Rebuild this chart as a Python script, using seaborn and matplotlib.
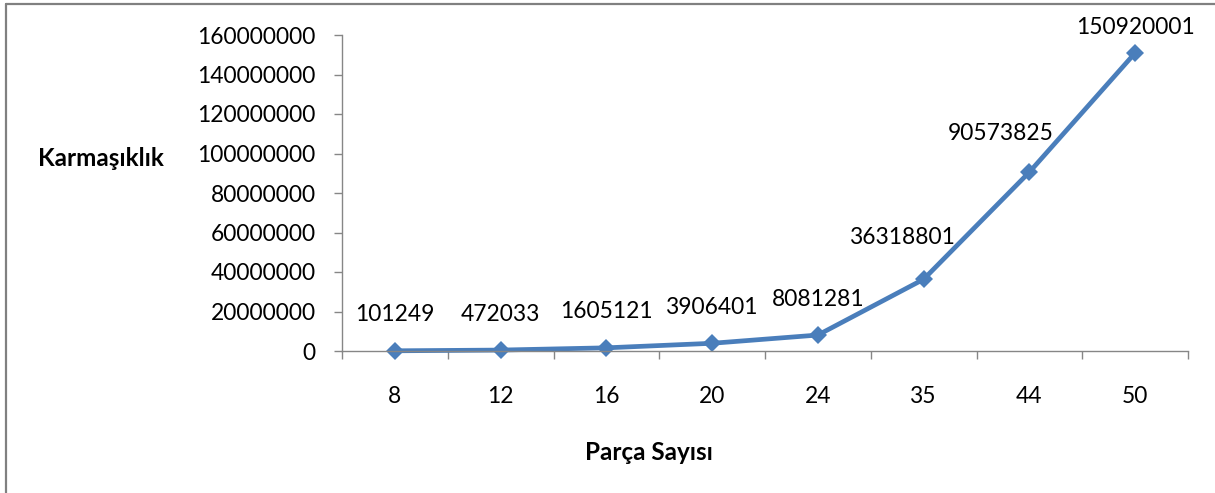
import matplotlib
matplotlib.use("Agg")
import matplotlib.pyplot as plt
from matplotlib.lines import Line2D
import pandas as pd
import seaborn as sns

# Chart data
parca_sayisi = ["8", "12", "16", "20", "24", "35", "44", "50"]
karmasiklik = [101249, 472033, 1605121, 3906401, 8081281, 36318801, 90573825, 150920001]
y_ticks = [0, 20000000, 40000000, 60000000, 80000000,
           100000000, 120000000, 140000000, 160000000]

# Label nudges (pixels) so labels stay clear of the line
label_shift_px = [(0, 36), (0, 36), (0, 36), (0, 36), (0, 36),
                  (-21, 42), (-29, 39), (0, 25)]

sns.set_theme(style="white")
plt.rcParams["font.family"] = ["Lato", "DejaVu Sans"]

W, H = 1215, 493
fig = plt.figure(figsize=(W / 100, H / 100), dpi=100)
ax = fig.add_axes([342 / W, 142 / H, 846 / W, 316 / H])

df = pd.DataFrame({"Parça Sayısı": parca_sayisi, "Karmaşıklık": karmasiklik})
sns.pointplot(data=df, x="Parça Sayısı", y="Karmaşıklık", color="#4A7EBB",
              marker="D", errorbar=None, ax=ax)
for ln in ax.lines:
    ln.set_clip_on(False)
    ln.set_linewidth(3.4)
    ln.set_marker("D")
    ln.set_markersize(9)
    ln.set_markeredgewidth(0)
    ln.set_solid_joinstyle("round")

ax.set_xlim(-0.5, len(parca_sayisi) - 0.5)
ax.set_ylim(y_ticks[0], y_ticks[-1])
ax.set_yticks(y_ticks)
ax.set_yticklabels([str(v) for v in y_ticks])
ax.set_xlabel("")
ax.set_ylabel("")

axis_gray = "#868686"
for side in ("top", "right"):
    ax.spines[side].set_visible(False)
for side in ("left", "bottom"):
    ax.spines[side].set_color(axis_gray)
    ax.spines[side].set_linewidth(1.0)

fs = 16.4
ax.tick_params(axis="y", direction="out", length=6, width=1, color=axis_gray,
               labelsize=fs, labelcolor="black", pad=13, left=True)
ax.tick_params(axis="x", which="major", length=0, labelsize=fs,
               labelcolor="black", pad=25)
ax.set_xticks([i - 0.5 for i in range(len(parca_sayisi) + 1)], minor=True)
ax.tick_params(axis="x", which="minor", direction="out", length=6, width=1,
               color=axis_gray, bottom=True)

for i, (v, (dx, dy)) in enumerate(zip(karmasiklik, label_shift_px)):
    ax.annotate(str(v), (i, v), xytext=(dx * 0.72, dy * 0.72),
                textcoords="offset points", ha="center", va="center",
                fontsize=fs, color="black", annotation_clip=False)

fig.text(101 / W, 1 - 158 / H, "Karmaşıklık", ha="center", va="center",
         fontsize=17.5, fontweight="bold", color="black")
fig.text(649 / W, 1 - 452 / H, "Parça Sayısı", ha="center", va="center",
         fontsize=17.5, fontweight="bold", color="black")

# Chart-area frame (left and top edges)
frame = "#808080"
fig.add_artist(Line2D([6 / W, 6 / W], [0, 1 - 4 / H], transform=fig.transFigure,
                      color=frame, lw=1.6))
fig.add_artist(Line2D([6 / W, 1], [1 - 4 / H, 1 - 4 / H], transform=fig.transFigure,
                      color=frame, lw=1.6))

fig.savefig("out.png", dpi=100, facecolor="white")
